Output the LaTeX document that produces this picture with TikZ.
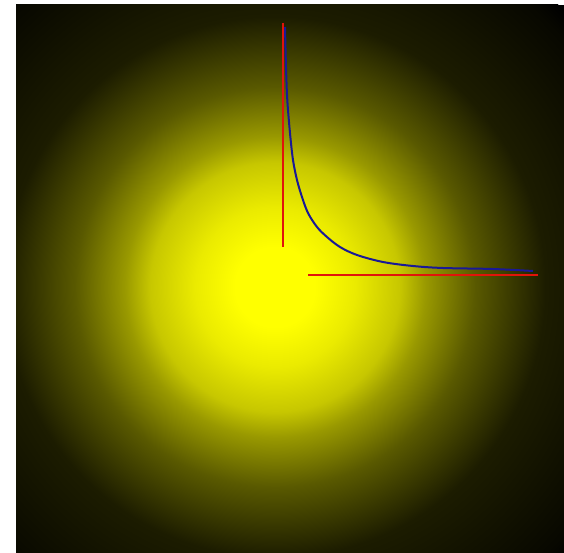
\documentclass[tikz,border=0pt]{standalone}
\usetikzlibrary{calc}
\definecolor{glowyellow}{RGB}{255,255,0}
\definecolor{asymred}{RGB}{225,20,10}
\definecolor{curveblue}{RGB}{25,25,150}
\pgfdeclareradialshading{glow}{\pgfpoint{0bp}{0bp}}{%
  color(0bp)=(glowyellow);
  color(2.5bp)=(glowyellow);
  color(5bp)=(glowyellow!92!black);
  color(7.8bp)=(glowyellow!78!black);
  color(9.4bp)=(glowyellow!60!black);
  color(12.5bp)=(glowyellow!35!black);
  color(16.9bp)=(glowyellow!11!black);
  color(23.75bp)=(glowyellow!3!black);
  color(25bp)=(black);
  color(50bp)=(black)}
\tikzset{
  asym/.style={draw=asymred, line width=2.6pt},
  curve/.style={draw=curveblue, line width=2pt, line join=round},
}
\begin{document}
\begin{tikzpicture}[x=1pt,y=-1pt]
\useasboundingbox (0,0) rectangle (564,553);
\fill[white] (0,0) rectangle (564,553);
\begin{scope}
  \clip (16,5) rectangle (564,553);
  \fill[black] (16,5) rectangle (564,553);
  \shade[shading=glow] (275,287) circle (400pt);
\end{scope}
% asymptotes
\coordinate (vtop) at (283,23);
\coordinate (vbot) at (283,247);
\coordinate (hl) at (308,275);
\coordinate (hr) at (538,275);
\draw[asym] (vtop) -- (vbot);
\draw[asym] (hl) -- (hr);
% curve
\draw[curve] plot[smooth, tension=0.55] coordinates {
  (285,27) (286,67) (287.3,100) (290,133) (293,160) (297,180) (302,197)
  (308,213) (317,227) (327,237) (340,247) (357,255) (383,262) (413,266)
  (443,268) (493,269) (533,271)};
\end{tikzpicture}
\end{document}
